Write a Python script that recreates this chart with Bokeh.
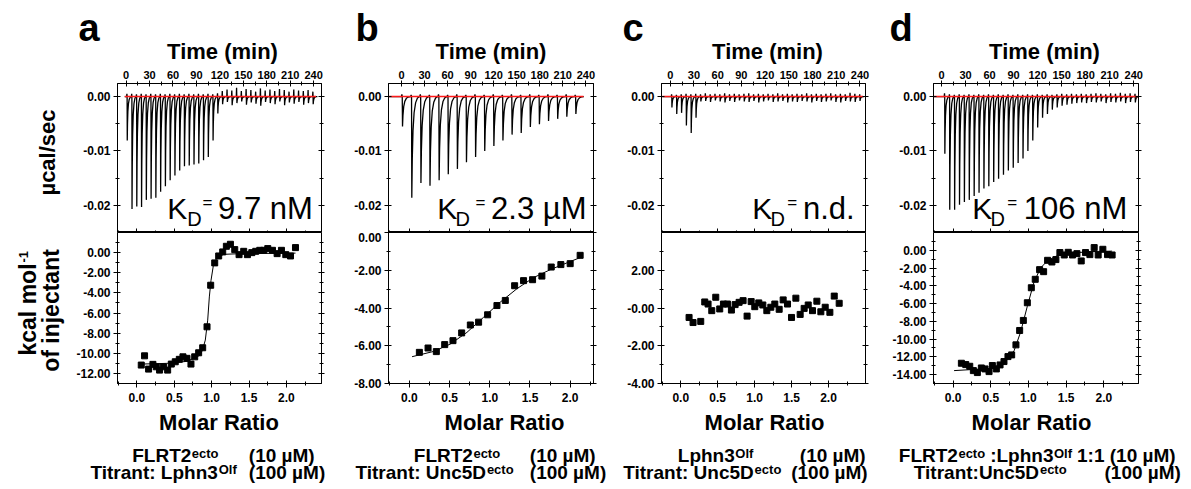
import math
from bokeh.plotting import figure
from bokeh.models import Range1d, LinearAxis, FixedTicker, PrintfTickFormatter, Label
from bokeh.layouts import row, column
from bokeh.embed import file_html
from bokeh.resources import INLINE
from bokeh.core.properties import value

FONT = "Liberation Sans"

# ---------------- shared tick data ----------------
time_ticks = [0, 30, 60, 90, 120, 150, 180, 210, 240]
time_minor = [15, 45, 75, 105, 135, 165, 195, 225]
power_ticks = [0.0, -0.01, -0.02]
power_minor = [-0.005, -0.015]
mr_ticks = [0.0, 0.5, 1.0, 1.5, 2.0]
mr_minor = [-0.25, 0.25, 0.75, 1.25, 1.75, 2.25]

# relative shape of one injection peak (fraction of interval, fraction of depth)
peak_shape_t = [0.0, 0.03, 0.08, 0.16, 0.28, 0.45, 0.65, 0.90]
peak_shape_v = [0.0, 1.0, 0.62, 0.34, 0.16, 0.06, 0.015, 0.0]

# ---------------- panel a ----------------
a_interval = 6.1
a_inj_t = [1.3, 7.4, 13.5, 19.6, 25.7, 31.8, 37.9, 44.0, 50.1, 56.2, 62.3, 68.4, 74.5, 80.6, 86.7, 92.8,
           98.9, 105.0, 111.1, 117.2, 123.3, 129.4, 135.5, 141.6, 147.7, 153.8, 159.9, 166.0, 172.1,
           178.2, 184.3, 190.4, 196.5, 202.6, 208.7, 214.8, 220.9, 227.0, 233.1, 239.2]
a_peak = [-0.0081, -0.0207, -0.0202, -0.0203, -0.0190, -0.0188, -0.0186, -0.0175, -0.0165, -0.0154,
          -0.0145, -0.0136, -0.0128, -0.0127, -0.0125, -0.0123, -0.0117, -0.0111, -0.0081, -0.0031,
          -0.0014, -0.0010, -0.0016, -0.0012, -0.0009, -0.0015, -0.0011, -0.0013, -0.0017, -0.0010,
          -0.0012, -0.0014, -0.0009, -0.0016, -0.0011, -0.0013, -0.0010, -0.0015, -0.0012, -0.0014]
a_up = [0.0005, 0.0005, 0.0004, 0.0005, 0.0004, 0.0005, 0.0004, 0.0005, 0.0004, 0.0005,
        0.0004, 0.0005, 0.0004, 0.0005, 0.0004, 0.0005, 0.0004, 0.0005, 0.0004, 0.0006,
        0.0010, 0.0013, 0.0011, 0.0016, 0.0010, 0.0014, 0.0012, 0.0009, 0.0015, 0.0011,
        0.0013, 0.0010, 0.0014, 0.0012, 0.0009, 0.0013, 0.0011, 0.0010, 0.0012, 0.0009]
a_base_t = [-1.7, 243.0]
a_mr = [0.058, 0.102, 0.156, 0.214, 0.259, 0.303, 0.357, 0.411, 0.460, 0.513, 0.567, 0.616, 0.670,
        0.723, 0.773, 0.826, 0.880, 0.938, 0.987, 1.041, 1.094, 1.148, 1.197, 1.251, 1.309, 1.367,
        1.429, 1.479, 1.537, 1.590, 1.644, 1.697, 1.751, 1.814, 1.876, 1.934, 1.992, 2.055, 2.122]
a_heat = [-11.17, -10.25, -11.57, -11.10, -11.34, -11.67, -11.34, -11.67, -11.07, -10.84, -10.60,
          -10.35, -10.50, -11.07, -10.35, -9.95, -9.45, -7.37, -3.24, -1.02, -0.33, 0.07, 0.63, 0.83,
          0.30, -0.20, 0.13, -0.20, 0.00, 0.13, 0.23, 0.23, 0.40, 0.23, -0.10, 0.23, -0.20, -0.33, 0.50]
a_fit_mr = [0.057, 0.40, 0.67, 0.848, 0.88, 0.915, 0.947, 0.969, 0.991, 1.027, 1.072, 1.161, 1.385, 2.122]
a_fit_heat = [-11.07, -11.0, -10.8, -10.18, -9.6, -8.69, -6.71, -4.40, -2.78, -1.09, -0.50, -0.17, -0.10, -0.05]
a_heat_ticks = [0, -2, -4, -6, -8, -10, -12]
a_heat_minor = [1, -1, -3, -5, -7, -9, -11]

# ---------------- panel b ----------------
b_interval = 11.9
b_inj_t = [0.9, 13.0, 24.9, 36.7, 48.6, 60.5, 72.4, 84.2, 96.1, 108.0, 119.9, 131.7, 143.6, 155.5,
           167.4, 179.2, 191.1, 203.0, 214.9, 226.7]
b_peak = [-0.0055, -0.0186, -0.0159, -0.0164, -0.0154, -0.0143, -0.0133, -0.0121, -0.0111, -0.0100,
          -0.0091, -0.0081, -0.0070, -0.0067, -0.0056, -0.0051, -0.0045, -0.0041, -0.0037, -0.0032]
b_up = [0.0004, 0.0003, 0.0004, 0.0003, 0.0004, 0.0003, 0.0004, 0.0003, 0.0004, 0.0003,
        0.0004, 0.0003, 0.0004, 0.0003, 0.0004, 0.0003, 0.0004, 0.0003, 0.0004, 0.0003]
b_base_t = [-17.0, 237.0]
b_mr = [0.124, 0.232, 0.335, 0.439, 0.542, 0.650, 0.758, 0.861, 0.973, 1.089, 1.193, 1.309, 1.420,
        1.532, 1.648, 1.764, 1.884, 2.000, 2.124]
b_heat = [-6.35, -6.12, -6.31, -5.94, -5.73, -5.32, -4.90, -4.75, -4.36, -3.87, -3.60, -2.82, -2.55,
          -2.50, -2.31, -1.83, -1.70, -1.65, -1.21]
b_fit_mr = [0.033, 0.302, 0.509, 0.716, 0.923, 1.130, 1.337, 1.545, 1.752, 1.959, 2.124]
b_fit_heat = [-6.58, -6.30, -5.91, -5.29, -4.49, -3.69, -2.98, -2.39, -1.97, -1.61, -1.33]
b_heat_ticks = [0, -2, -4, -6, -8]
b_heat_minor = [-1, -3, -5, -7]

# ---------------- panel c ----------------
c_interval = 6.1
c_inj_t = [2.0, 8.1, 14.2, 20.3, 26.4, 32.5, 38.6, 44.7, 50.8, 56.9, 63.0, 69.1, 75.2, 81.3, 87.4,
           93.5, 99.6, 105.7, 111.8, 117.9, 124.0, 130.1, 136.2, 142.3, 148.4, 154.5, 160.6, 166.7,
           172.8, 178.9, 185.0, 191.1, 197.2, 203.3, 209.4, 215.5, 221.6, 227.7, 233.8, 239.9]
c_peak = [-0.0020, -0.0032, -0.0030, -0.0053, -0.0067, -0.0039, -0.0009, -0.0008, -0.0010, -0.0007,
          -0.0009, -0.0011, -0.0008, -0.0010, -0.0007, -0.0009, -0.0010, -0.0008, -0.0011, -0.0009,
          -0.0007, -0.0010, -0.0009, -0.0008, -0.0011, -0.0009, -0.0010, -0.0008, -0.0009, -0.0011,
          -0.0008, -0.0010, -0.0009, -0.0007, -0.0010, -0.0011, -0.0008, -0.0009, -0.0010, -0.0008]
c_up = [0.0004, 0.0003, 0.0004, 0.0005, 0.0004, 0.0005, 0.0004, 0.0006, 0.0004, 0.0005,
        0.0004, 0.0006, 0.0004, 0.0005, 0.0004, 0.0005, 0.0006, 0.0004, 0.0005, 0.0004,
        0.0005, 0.0004, 0.0006, 0.0004, 0.0005, 0.0004, 0.0005, 0.0004, 0.0006, 0.0004,
        0.0005, 0.0004, 0.0005, 0.0006, 0.0004, 0.0005, 0.0004, 0.0007, 0.0005, 0.0004]
c_base_t = [-10.0, 244.0]
c_mr = [0.113, 0.167, 0.271, 0.325, 0.370, 0.420, 0.474, 0.528, 0.578, 0.632, 0.686, 0.736, 0.790,
        0.844, 0.898, 0.953, 1.002, 1.056, 1.111, 1.165, 1.219, 1.273, 1.332, 1.386, 1.445, 1.499,
        1.558, 1.616, 1.670, 1.725, 1.783, 1.842, 1.896, 1.955, 2.018, 2.077, 2.144]
c_heat = [-0.50, -0.77, -0.71, 0.32, 0.21, -0.14, 0.57, -0.05, 0.21, 0.21, -0.11, 0.18, 0.30, 0.39,
          -0.43, 0.34, 0.07, 0.27, 0.16, -0.14, 0.04, 0.21, -0.07, 0.43, 0.21, -0.50, 0.52, -0.34,
          -0.02, 0.16, -0.14, 0.36, -0.20, 0.04, -0.23, 0.63, 0.25]
c_heat_ticks = [2, 0, -2, -4]
c_heat_minor = [3, 1, -1, -3]

# ---------------- panel d ----------------
d_interval = 6.1
d_inj_t = [4.0, 10.1, 16.2, 22.3, 28.4, 34.5, 40.6, 46.7, 52.8, 58.9, 65.0, 71.1, 77.2, 83.3, 89.4,
           95.5, 101.6, 107.7, 113.8, 119.9, 126.0, 132.1, 138.2, 144.3, 150.4, 156.5, 162.6, 168.7,
           174.8, 180.9, 187.0, 193.1, 199.2, 205.3, 211.4, 217.5, 223.6, 229.7, 235.8, 241.9]
d_peak = [-0.0105, -0.0208, -0.0208, -0.0199, -0.0194, -0.0190, -0.0183, -0.0177, -0.0169, -0.0165,
          -0.0157, -0.0151, -0.0144, -0.0136, -0.0131, -0.0122, -0.0114, -0.0100, -0.0081, -0.0057,
          -0.0039, -0.0032, -0.0024, -0.0020, -0.0017, -0.0015, -0.0013, -0.0012, -0.0011, -0.0012,
          -0.0010, -0.0011, -0.0009, -0.0012, -0.0010, -0.0011, -0.0009, -0.0012, -0.0010, -0.0011]
d_up = [0.0006, 0.0004, 0.0003, 0.0004, 0.0003, 0.0004, 0.0003, 0.0004, 0.0003, 0.0004,
        0.0003, 0.0004, 0.0003, 0.0004, 0.0003, 0.0004, 0.0003, 0.0004, 0.0003, 0.0004,
        0.0003, 0.0004, 0.0003, 0.0004, 0.0005, 0.0004, 0.0005, 0.0004, 0.0005, 0.0004,
        0.0005, 0.0006, 0.0005, 0.0004, 0.0006, 0.0005, 0.0007, 0.0005, 0.0006, 0.0005]
d_base_t = [-9.6, 245.0]
d_mr = [0.110, 0.168, 0.221, 0.269, 0.322, 0.375, 0.424, 0.477, 0.521, 0.574, 0.623, 0.675, 0.728,
        0.777, 0.834, 0.883, 0.932, 0.985, 1.038, 1.090, 1.148, 1.201, 1.254, 1.311, 1.364, 1.417,
        1.475, 1.528, 1.585, 1.643, 1.700, 1.757, 1.815, 1.872, 1.925, 1.987, 2.049, 2.110]
d_heat = [-12.72, -12.87, -13.06, -13.55, -13.77, -13.25, -13.36, -13.66, -12.98, -13.36, -12.91,
          -12.53, -11.97, -11.78, -10.65, -9.03, -7.90, -5.91, -4.22, -3.27, -2.18, -2.41, -1.13,
          -1.32, -1.05, -0.26, -0.53, -0.23, -0.53, -0.38, -1.20, -0.26, -0.49, 0.30, -0.53, 0.11,
          -0.49, -0.53]
d_fit_mr = [0.013, 0.50, 0.675, 0.81, 0.896, 0.985, 1.073, 1.16, 1.25, 1.38, 1.60, 1.82, 2.11]
d_fit_heat = [-13.55, -13.3, -12.7, -11.3, -9.2, -6.3, -3.6, -2.0, -1.2, -0.6, -0.3, -0.15, -0.1]
d_heat_ticks = [0, -2, -4, -6, -8, -10, -12, -14]
d_heat_minor = [1, -1, -3, -5, -7, -9, -11, -13]

# ---------------- texts ----------------
kd_values = ["9.7 nM", "2.3 µM", "n.d.", "106 nM"]
cap_a = [[("FLRT2", 0, 131.7), ("ecto", 1, None), ("(10 µM)", 0, 248.3)],
         [("Titrant: Lphn3", 0, 90.0), ("Olf", 1, None), ("(100 µM)", 0, 248.3)]]
cap_b = [[("FLRT2", 0, 413.3), ("ecto", 1, None), ("(10 µM)", 0, 529.3)],
         [("Titrant: Unc5D", 0, 355.0), ("ecto", 1, None), ("(100 µM)", 0, 529.3)]]
cap_c = [[("Lphn3", 0, 677.3), ("Olf", 1, None), ("(10 µM)", 0, 799.3)],
         [("Titrant: Unc5D", 0, 622.7), ("ecto", 1, None), ("(100 µM)", 0, 790.7)]]
cap_d = [[("FLRT2", 0, 898.3), ("ecto", 1, None), (":Lphn3", 0, "gap"), ("Olf", 1, None), ("1:1 (10 µM)", 0, "gap")],
         [("Titrant:Unc5D", 0, 913.3), ("ecto", 1, None), ("(100 µM)", 0, 1104.0)]]

# Arial-bold advance widths (per 1000 em) for laying out caption pieces
AW = {' ': 278, '(': 333, ')': 333, ':': 333, '.': 278, '0': 556, '1': 556, '2': 556, '3': 556,
      '5': 556, 'D': 722, 'F': 611, 'L': 611, 'M': 833, 'O': 778, 'R': 722, 'T': 611, 'U': 722,
      'a': 556, 'c': 556, 'e': 556, 'f': 333, 'h': 611, 'i': 278, 'l': 278, 'n': 611, 'o': 611,
      'p': 611, 'r': 389, 't': 333, 'µ': 611}

# the renderer draws "alphabetic" text this fraction of an em lower than the asked-for baseline
BASE_SHIFT = 0.32
CAP_SIZE, SUP_SIZE = 19, 13


def text_width(s, size):
    return sum(AW.get(ch, 600) for ch in s) * size / 1000.0


def build_trace(base_t, inj_t, peaks, ups, interval):
    xs = [base_t[0]]
    ys = [0.0]
    for t, d, u in zip(inj_t, peaks, ups):
        xs += [t - 0.10 * interval, t - 0.04 * interval]
        ys += [0.0, u]
        for ft, fv in zip(peak_shape_t, peak_shape_v):
            xs.append(t + ft * interval)
            ys.append(fv * d)
    xs.append(base_t[1])
    ys.append(0.0)
    return xs, ys


def no_align(p):
    try:
        p.frame_align = False
    except Exception:
        pass


def style_axis(ax, size="12px", tin=3, tout=4, min_in=2, min_out=2, standoff=3, labels=True):
    ax.axis_line_color = "black"
    ax.axis_line_width = 1
    ax.major_tick_line_color = "black"
    ax.minor_tick_line_color = "black"
    ax.major_tick_in = tin
    ax.major_tick_out = tout
    ax.minor_tick_in = min_in
    ax.minor_tick_out = min_out
    ax.major_label_text_font = FONT
    ax.major_label_text_font_style = "bold"
    ax.major_label_standoff = standoff
    if labels:
        ax.major_label_text_font_size = size
        ax.major_label_text_color = "black"
    else:
        ax.major_label_text_font_size = "0px"
        ax.major_label_text_color = None


def base_fig(xr, yr, fw, fh, left, right, top, bottom):
    p = figure(frame_width=fw, frame_height=fh, x_range=Range1d(*xr), y_range=Range1d(*yr),
               x_axis_location=None, y_axis_location=None, toolbar_location=None,
               output_backend="svg", min_border_left=left, min_border_right=right,
               min_border_top=top, min_border_bottom=bottom)
    p.grid.visible = False
    p.outline_line_color = "black"
    p.outline_line_width = 1
    p.background_fill_color = "white"
    p.border_fill_color = "white"
    no_align(p)
    return p


def strip_fig(x0, x1, y0, y1):
    """A blank figure whose data space is the page's pixel space (y flipped)."""
    p = figure(width=int(x1 - x0), height=int(y1 - y0), x_range=Range1d(x0, x1),
               y_range=Range1d(-y1, -y0), x_axis_location=None, y_axis_location=None,
               toolbar_location=None, output_backend="svg", min_border=0)
    p.grid.visible = False
    p.outline_line_color = None
    p.background_fill_color = "white"
    p.border_fill_color = "white"
    no_align(p)
    return p


def put(p, x, y, text, size, bold=True, align="left", angle=0.0):
    if angle:
        x -= BASE_SHIFT * size
    else:
        y -= BASE_SHIFT * size
    p.text(x=[x], y=[-y], text=[text], text_font=value(FONT), text_font_size=value(f"{size}px"),
           text_font_style="bold" if bold else "normal", text_align=align,
           text_baseline="alphabetic", angle=angle, text_color="black")


def add_label(p, fr, x_img, y_img, text, size, bold=False, align="left"):
    y_img -= BASE_SHIFT * size
    p.add_layout(Label(x=fr[0], y=fr[1], x_offset=x_img - fr[2], y_offset=fr[3] - y_img,
                       text=text, text_font=FONT, text_font_size=f"{size}px",
                       text_font_style="bold" if bold else "normal", text_color="black",
                       text_align=align, text_baseline="alphabetic"))


TOP_Y = (-0.025, 0.0024)
HEAD_H, TOP_BORDER, TOP_H, BOT_H, BOT_BORDER, FOOT_H = 64, 19, 149, 151, 24, 80
HEAD_END = HEAD_H                            # 64
FRAME_MID = HEAD_END + TOP_BORDER + TOP_H    # 232
FRAME_BOT = FRAME_MID + BOT_H                # 383
FOOT_START = FRAME_BOT + BOT_BORDER          # 407
PAGE_END = FOOT_START + FOOT_H               # 487

panels = [
    dict(col=(72, 338), fx0=117, fw=204, left=45, right=17, t_range=(-11, 250), mr_range=(-0.26, 2.47),
         h_range=(-13, 2), h_ticks=a_heat_ticks, h_minor=a_heat_minor, inj_t=a_inj_t, peak=a_peak,
         up=a_up, interval=a_interval, base_t=a_base_t, mr=a_mr, heat=a_heat, fit_mr=a_fit_mr,
         fit_heat=a_fit_heat, letter="a", letter_x=78, time_c=222.0, molar_c=218.5,
         kd=(166.7, 186.7, 202.0, 265.0), kd_text=kd_values[0], caption=cap_a, overrides={}),
    dict(col=(338, 611), fx0=388, fw=205, left=50, right=18, t_range=(-17, 250), mr_range=(-0.26, 2.29),
         h_range=(-8, 0), h_ticks=b_heat_ticks, h_minor=b_heat_minor, inj_t=b_inj_t, peak=b_peak,
         up=b_up, interval=b_interval, base_t=b_base_t, mr=b_mr, heat=b_heat, fit_mr=b_fit_mr,
         fit_heat=b_fit_heat, letter="b", letter_x=355, time_c=490.5, molar_c=504.0,
         kd=(436.7, 455.0, 475.0, 538.3), kd_text=kd_values[1], caption=cap_b, overrides={}),
    dict(col=(611, 885), fx0=661, fw=204, left=50, right=20, t_range=(-11, 247), mr_range=(-0.26, 2.5),
         h_range=(-4, 4), h_ticks=c_heat_ticks, h_minor=c_heat_minor, inj_t=c_inj_t, peak=c_peak,
         up=c_up, interval=c_interval, base_t=c_base_t, mr=c_mr, heat=c_heat, fit_mr=None,
         fit_heat=None, letter="c", letter_x=622, time_c=767.0, molar_c=764.0,
         kd=(751.7, 770.0, 786.7, 828.3), kd_text=kd_values[2], caption=cap_c, overrides={0: "-0.00"}),
    dict(col=(885, 1188), fx0=933, fw=205, left=48, right=50, t_range=(-10, 246), mr_range=(-0.26, 2.46),
         h_range=(-15, 2), h_ticks=d_heat_ticks, h_minor=d_heat_minor, inj_t=d_inj_t, peak=d_peak,
         up=d_up, interval=d_interval, base_t=d_base_t, mr=d_mr, heat=d_heat, fit_mr=d_fit_mr,
         fit_heat=d_fit_heat, letter="d", letter_x=889, time_c=1044.0, molar_c=1031.0,
         kd=(971.7, 990.0, 1006.7, 1075.0), kd_text=kd_values[3], caption=cap_d, overrides={}),
]

blocks = []
for i, P in enumerate(panels):
    cx0, cx1 = P["col"]
    # ---------- header strip: panel letter + time axis title ----------
    head = strip_fig(cx0, cx1, 0, HEAD_END)
    put(head, P["letter_x"], 40, P["letter"], 38)
    put(head, P["time_c"], 58.5, "Time (min)", 22, align="center")

    # ---------- top: thermogram ----------
    top = base_fig(P["t_range"], TOP_Y, P["fw"], TOP_H, P["left"], P["right"], TOP_BORDER, 0)
    top.extra_x_ranges = {"mr": Range1d(*P["mr_range"])}
    ax = LinearAxis(ticker=FixedTicker(ticks=time_ticks, minor_ticks=time_minor),
                    formatter=PrintfTickFormatter(format="%d"))
    style_axis(ax, size="11px", tin=3, tout=3, standoff=2)
    top.add_layout(ax, "above")
    ax = LinearAxis(ticker=FixedTicker(ticks=power_ticks, minor_ticks=power_minor),
                    formatter=PrintfTickFormatter(format="%.2f"))
    style_axis(ax, size="12px", tin=3, tout=4, standoff=3)
    top.add_layout(ax, "left")
    ax = LinearAxis(ticker=FixedTicker(ticks=power_ticks, minor_ticks=power_minor))
    style_axis(ax, tin=3, tout=3, standoff=0, labels=False)
    top.add_layout(ax, "right")
    ax = LinearAxis(x_range_name="mr", ticker=FixedTicker(ticks=mr_ticks, minor_ticks=mr_minor))
    style_axis(ax, tin=4, tout=0, min_in=2, min_out=0, standoff=0, labels=False)
    top.add_layout(ax, "below")

    tx, ty = build_trace(P["base_t"], P["inj_t"], P["peak"], P["up"], P["interval"])
    top.line(tx, ty, line_color="black", line_width=1.3)
    top.line(P["base_t"], [0.0, 0.0], line_color="#ff1a1a", line_width=1.6)

    frt = (P["t_range"][0], TOP_Y[0], P["fx0"], FRAME_MID)
    kx, dx, ex, vc = P["kd"]
    add_label(top, frt, kx, 218, "K", 30)
    add_label(top, frt, dx, 224.5, "D", 20)
    add_label(top, frt, ex, 207.5, "=", 17)
    add_label(top, frt, vc, 218, P["kd_text"], 31, align="center")

    # ---------- bottom: isotherm ----------
    bot = base_fig(P["mr_range"], P["h_range"], P["fw"], BOT_H, P["left"], P["right"], 0, BOT_BORDER)
    ax = LinearAxis(ticker=FixedTicker(ticks=mr_ticks, minor_ticks=mr_minor),
                    formatter=PrintfTickFormatter(format="%.1f"))
    style_axis(ax, size="12px", tin=3, tout=4, standoff=5)
    bot.add_layout(ax, "below")
    ax = LinearAxis(ticker=FixedTicker(ticks=P["h_ticks"], minor_ticks=P["h_minor"]),
                    formatter=PrintfTickFormatter(format="%.2f"))
    style_axis(ax, size="12px", tin=3, tout=4, standoff=3)
    if P["overrides"]:
        ax.major_label_overrides = P["overrides"]
    bot.add_layout(ax, "left")
    ax = LinearAxis(ticker=FixedTicker(ticks=P["h_ticks"], minor_ticks=P["h_minor"]))
    style_axis(ax, tin=3, tout=3, standoff=0, labels=False)
    bot.add_layout(ax, "right")

    if P["fit_mr"] is not None:
        bot.line(P["fit_mr"], P["fit_heat"], line_color="black", line_width=1.0)
    bot.scatter(P["mr"], P["heat"], marker="square", size=6, fill_color="black", line_color="black")

    # ---------- footer strip: x axis title + sample caption ----------
    foot = strip_fig(cx0, cx1, FOOT_START, PAGE_END)
    put(foot, P["molar_c"], 429.5, "Molar Ratio", 22, align="center")
    for line_i, segs in enumerate(P["caption"]):
        base_y = 461.5 + 16.5 * line_i
        cur = None
        for text, sup, x in segs:
            size = SUP_SIZE if sup else CAP_SIZE
            if x is None:
                x = cur + 0.5
            elif x == "gap":
                x = cur + 5.0
            elif cur is not None:
                x = max(x, cur + 5.0)
            put(foot, x, base_y - (4.5 if sup else 0.0), text, size)
            cur = x + text_width(text, size)

    col = column(head, top, bot, foot, spacing=0)
    if i == 0:
        side = strip_fig(0, 72, 0, PAGE_END)
        put(side, 54, 152, "µcal/sec", 22, align="center", angle=math.pi / 2)
        put(side, 35, 309, "kcal mol", 23, align="center", angle=math.pi / 2)
        put(side, 27.5, 262, "-1", 13, align="left", angle=math.pi / 2)
        put(side, 58, 310, "of injectant", 23, align="center", angle=math.pi / 2)
        col = row(side, col, spacing=0)
    blocks.append(col)

layout = row(*blocks, spacing=0)
open("out.html", "w").write(file_html(layout, INLINE))
